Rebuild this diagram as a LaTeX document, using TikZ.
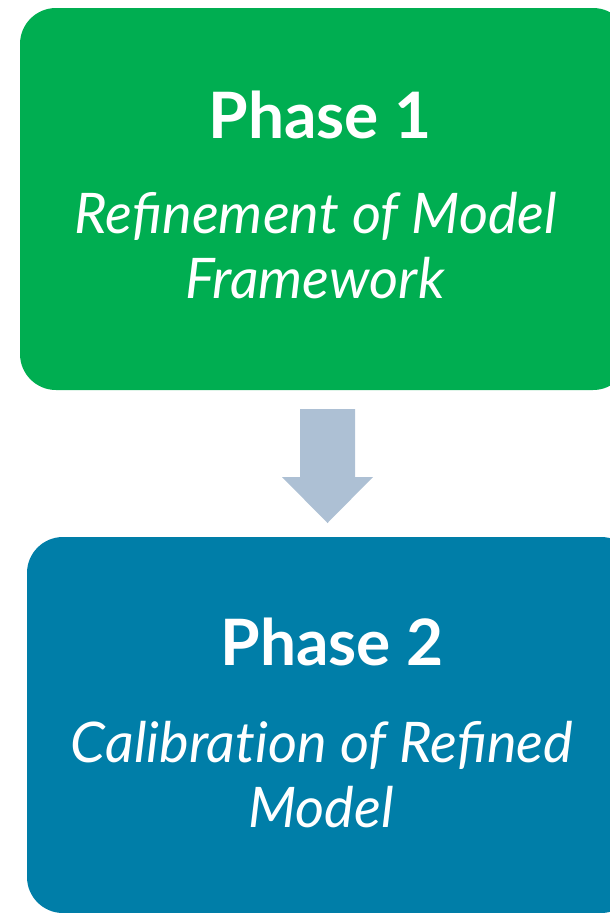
\documentclass[tikz,border=0pt]{standalone}
\usepackage{fontspec}
\setmainfont{Lato}
\definecolor{phgreen}{HTML}{00AE51}
\definecolor{phblue}{HTML}{007EA8}
\definecolor{arrowgray}{HTML}{ADC0D4}
\tikzset{
  phasebox/.style={rounded corners=36pt},
  titletext/.style={text=white, inner sep=0pt, anchor=base, font=\bfseries\fontsize{64}{64}\selectfont},
  subtext/.style={text=white, inner sep=0pt, anchor=base, font=\itshape\fontsize{56}{56}\selectfont},
}
\begin{document}
\begin{tikzpicture}[x=1pt,y=-1pt]
\useasboundingbox (0,0) rectangle (610,913);
\clip (0,0) rectangle (610,913);
\fill[phgreen, phasebox] (20,8) rectangle (629,390);
\fill[phblue, phasebox] (27,537) rectangle (637,913);
\fill[arrowgray] (300,409) -- (355,409) -- (355,477) -- (373,477) -- (327.5,523) -- (282,477) -- (300,477) -- cycle;
\node[titletext] (t1) at (320,138) {Phase 1};
\node[subtext] (s1a) at (316,233) {Refinement of Model};
\node[subtext] (s1b) at (315,298) {Framework};
\node[titletext] (t2) at (332,665) {Phase 2};
\node[subtext] (s2a) at (322,762) {Calibra\mbox{t}\mbox{i}on of Refined};
\node[subtext] (s2b) at (321,827) {Model};
\end{tikzpicture}
\end{document}
